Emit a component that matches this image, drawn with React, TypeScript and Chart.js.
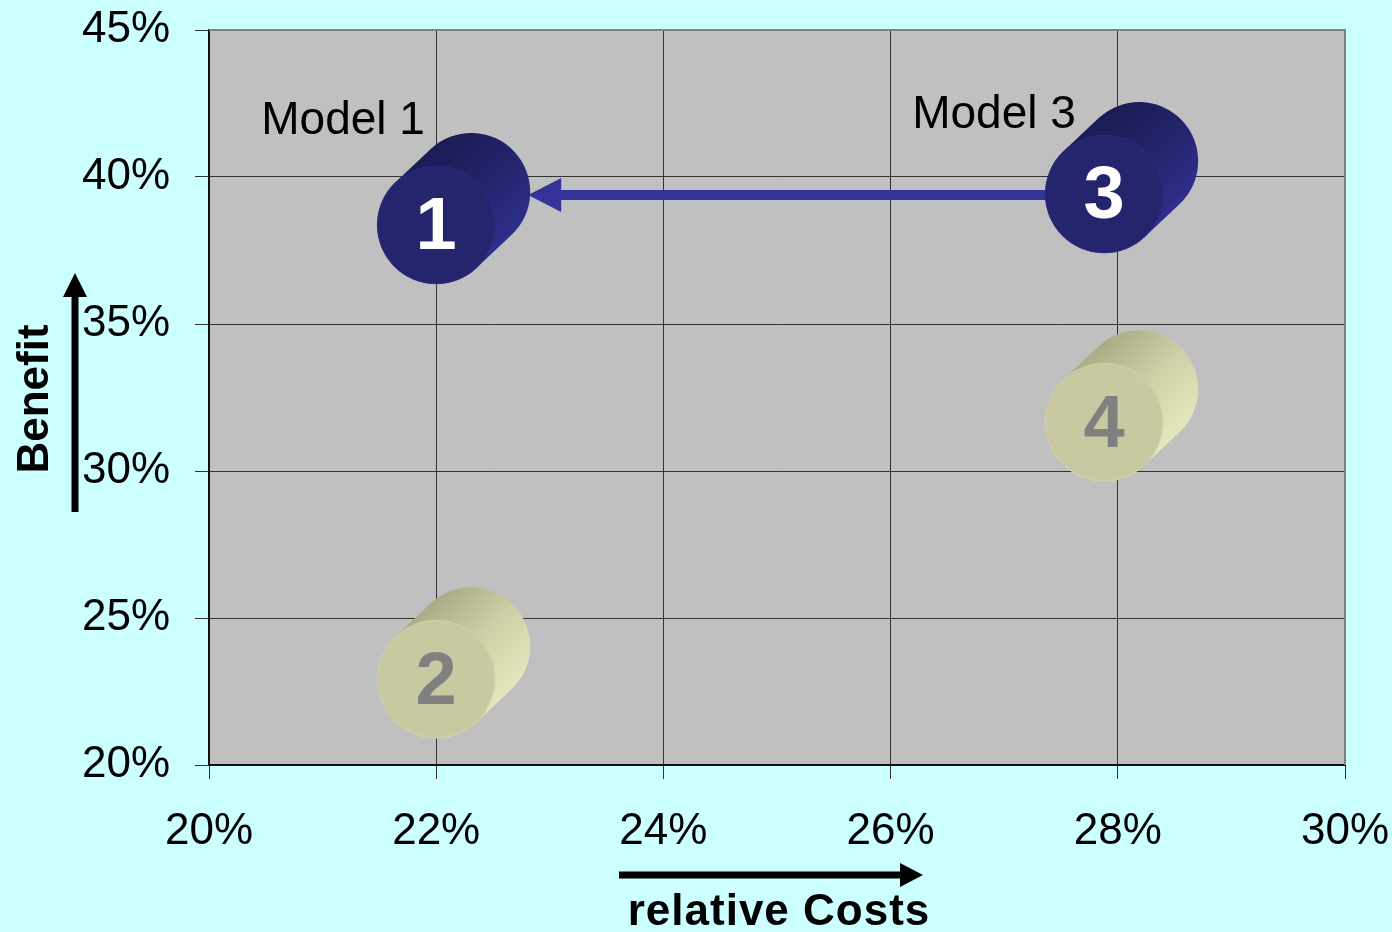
import { useEffect, useRef } from 'react';
import { Chart, registerables } from 'chart.js';

Chart.register(...registerables);

// ---- data ----
const modelNumbers = ['1', '2', '3', '4'];
const relativeCosts = [22.0, 22.0, 27.88, 27.88];
const benefits = [38.37, 22.92, 39.42, 31.66];
const highlighted = [true, false, true, false];
const modelNames = ['Model 1', 'Model 3'];
const modelNameX = [20.46, 26.19];
const modelNameY = [41.45, 41.65];
const xTickValues = [20, 22, 24, 26, 28, 30];
const yTickValues = [20, 25, 30, 35, 40, 45];
const arrowFromIndex = 2;
const arrowToIndex = 0;
const xTitle = 'relative Costs';
const yTitle = 'Benefit';

const FONT = '"Liberation Sans", Arial, Helvetica, sans-serif';
const R = 59;
const DX = 35;
const DY = -33;

function drawCylinder(ctx: CanvasRenderingContext2D, x: number, y: number, dark: boolean, label: string) {
  const a = Math.atan2(DY, DX);
  const bx = x + DX;
  const by = y + DY;
  const up = a - Math.PI / 2;
  const down = a + Math.PI / 2;
  ctx.save();
  // body
  ctx.beginPath();
  ctx.moveTo(x + R * Math.cos(up), y + R * Math.sin(up));
  ctx.arc(bx, by, R, up, down, false);
  ctx.lineTo(x + R * Math.cos(down), y + R * Math.sin(down));
  ctx.arc(x, y, R, down, up + 2 * Math.PI, false);
  ctx.closePath();
  const g = ctx.createLinearGradient(
    x + R * Math.cos(up), y + R * Math.sin(up),
    x + R * Math.cos(down), y + R * Math.sin(down)
  );
  if (dark) {
    g.addColorStop(0, '#1b1b55');
    g.addColorStop(0.5, '#23236a');
    g.addColorStop(1, '#2e2e8c');
  } else {
    g.addColorStop(0, '#abab85');
    g.addColorStop(0.5, '#cfcfa7');
    g.addColorStop(1, '#e6e6bc');
  }
  ctx.fillStyle = g;
  ctx.fill();
  // front face
  ctx.beginPath();
  ctx.arc(x, y, R, 0, Math.PI * 2);
  ctx.fillStyle = dark ? '#25256d' : '#c9c9a1';
  ctx.fill();
  ctx.lineWidth = 1;
  ctx.strokeStyle = dark ? 'rgba(50,50,150,0.5)' : 'rgba(215,215,180,0.6)';
  ctx.stroke();
  // number
  ctx.fillStyle = dark ? '#ffffff' : '#808080';
  ctx.font = `bold 74px ${FONT}`;
  ctx.textAlign = 'center';
  ctx.textBaseline = 'middle';
  ctx.fillText(label, x, y + 4);
  ctx.restore();
}

function drawArrow(ctx: CanvasRenderingContext2D, x0: number, y0: number, x1: number, y1: number, width: number, headLen: number, headHalf: number, color: string) {
  const ang = Math.atan2(y1 - y0, x1 - x0);
  const bxp = x1 - headLen * Math.cos(ang);
  const byp = y1 - headLen * Math.sin(ang);
  ctx.save();
  ctx.strokeStyle = color;
  ctx.fillStyle = color;
  ctx.lineWidth = width;
  ctx.lineCap = 'butt';
  ctx.beginPath();
  ctx.moveTo(x0, y0);
  ctx.lineTo(bxp + Math.cos(ang), byp + Math.sin(ang));
  ctx.stroke();
  ctx.beginPath();
  ctx.moveTo(x1, y1);
  ctx.lineTo(bxp - headHalf * Math.sin(ang), byp + headHalf * Math.cos(ang));
  ctx.lineTo(bxp + headHalf * Math.sin(ang), byp - headHalf * Math.cos(ang));
  ctx.closePath();
  ctx.fill();
  ctx.restore();
}

const decorPlugin = {
  id: 'decor',
  beforeDraw(chart: any) {
    const { ctx, chartArea: ca } = chart;
    ctx.save();
    ctx.fillStyle = '#c0c0c0';
    ctx.fillRect(ca.left, ca.top, ca.right - ca.left, ca.bottom - ca.top);
    ctx.restore();
  },
  beforeDatasetsDraw(chart: any) {
    const { ctx, chartArea: ca } = chart;
    ctx.save();
    ctx.strokeStyle = '#808080';
    ctx.lineWidth = 2;
    ctx.beginPath();
    ctx.moveTo(ca.left, ca.top);
    ctx.lineTo(ca.right, ca.top);
    ctx.lineTo(ca.right, ca.bottom);
    ctx.stroke();
    ctx.restore();
  },
  afterDatasetsDraw(chart: any) {
    const { ctx } = chart;
    const xs = chart.scales.x;
    const ys = chart.scales.y;
    const pts = chart.getDatasetMeta(0).data;
    const pFrom = pts[arrowFromIndex];
    const pTo = pts[arrowToIndex];
    drawArrow(ctx, pFrom.x - R + 2, pFrom.y + 1, pTo.x + DX + R - 2, pFrom.y + 1, 10, 33, 17, '#333399');
    pts.forEach((p: any, i: number) => {
      drawCylinder(ctx, p.x, p.y, highlighted[i], modelNumbers[i]);
    });
    ctx.save();
    ctx.fillStyle = '#000';
    ctx.font = `46px ${FONT}`;
    ctx.textAlign = 'left';
    ctx.textBaseline = 'alphabetic';
    modelNames.forEach((n, i) => {
      ctx.fillText(n, xs.getPixelForValue(modelNameX[i]), ys.getPixelForValue(modelNameY[i]));
    });
    ctx.restore();
  },
  afterDraw(chart: any) {
    const { ctx } = chart;
    drawArrow(ctx, 75, 512, 75, 273, 7, 24, 12, '#000');
    ctx.save();
    ctx.fillStyle = '#000';
    ctx.font = `bold 44px ${FONT}`;
    ctx.translate(48, 399);
    ctx.rotate(-Math.PI / 2);
    ctx.textAlign = 'center';
    ctx.textBaseline = 'alphabetic';
    ctx.fillText(yTitle, 0, 0);
    ctx.restore();
    drawArrow(ctx, 619, 875, 923, 875, 7, 23, 12, '#000');
    ctx.save();
    ctx.fillStyle = '#000';
    ctx.font = `bold 44px ${FONT}`;
    (ctx as any).letterSpacing = '1px';
    ctx.textAlign = 'center';
    ctx.textBaseline = 'alphabetic';
    ctx.fillText(xTitle, 779, 925);
    ctx.restore();
  },
};

export default function App() {
  const ref = useRef<HTMLCanvasElement>(null);
  useEffect(() => {
    document.body.style.margin = '0';
    const canvas = ref.current!;
    const chart = new Chart(canvas, {
      type: 'scatter',
      data: {
        datasets: [
          {
            data: relativeCosts.map((c, i) => ({ x: c, y: benefits[i] })),
            pointRadius: 0,
            pointHoverRadius: 0,
            showLine: false,
          },
        ],
      },
      options: {
        animation: false,
        responsive: false,
        devicePixelRatio: 1,
        events: [],
        layout: { padding: { top: 30, right: 47, left: 0, bottom: 0 } },
        plugins: { legend: { display: false }, tooltip: { enabled: false } },
        scales: {
          x: {
            type: 'linear',
            min: 20,
            max: 30,
            afterFit: (s: any) => {
              s.height = 167;
              s.paddingLeft = 0;
              s.paddingRight = 0;
              s.paddingTop = 0;
              s.paddingBottom = 0;
            },
            afterBuildTicks: (s: any) => { s.ticks = xTickValues.map((v) => ({ value: v })); },
            ticks: {
              callback: (v: any) => v + '%',
              font: { family: FONT, size: 44 },
              color: '#000',
              padding: 26,
              maxRotation: 0,
              autoSkip: false,
            },
            grid: { color: '#333333', lineWidth: 1, tickLength: 14, drawTicks: true },
            border: { color: '#111', width: 2 },
          },
          y: {
            type: 'linear',
            min: 20,
            max: 45,
            afterFit: (s: any) => {
              s.width = 209;
              s.paddingLeft = 0;
              s.paddingRight = 0;
              s.paddingTop = 0;
              s.paddingBottom = 0;
            },
            afterBuildTicks: (s: any) => { s.ticks = yTickValues.map((v) => ({ value: v })); },
            ticks: {
              callback: (v: any) => v + '%',
              font: { family: FONT, size: 44 },
              color: '#000',
              padding: 25,
              autoSkip: false,
            },
            grid: { color: '#333333', lineWidth: 1, tickLength: 14, drawTicks: true },
            border: { color: '#111', width: 2 },
          },
        },
      },
      plugins: [decorPlugin],
    } as any);
    return () => chart.destroy();
  }, []);
  return (
    <div style={{ position: 'fixed', left: 0, top: 0, width: 1392, height: 932, background: '#ccffff' }}>
      <canvas ref={ref} width={1392} height={932} style={{ display: 'block', width: 1392, height: 932 }} />
    </div>
  );
}
